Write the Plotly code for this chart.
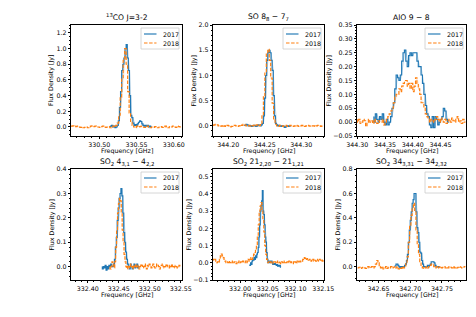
import numpy as np
import plotly.graph_objects as go

# ---------------- DATA ----------------
titles = ["<sup>13</sup>CO J=3-2", "SO 8<sub>8</sub> − 7<sub>7</sub>", "AlO 9 − 8",
          "SO<sub>2</sub> 4<sub>3,1</sub> − 4<sub>2,2</sub>",
          "SO<sub>2</sub> 21<sub>2,20</sub> − 21<sub>1,21</sub>",
          "SO<sub>2</sub> 34<sub>3,31</sub> − 34<sub>2,32</sub>"]
series_names = ["2017", "2018"]

# channel start frequency [GHz] and channel width [GHz]
co_2017_f0, co_2017_df = 330.515, 0.0015
co_2017 = [0.0, 0.01, 0.02, 0.0, 0.01, -0.01, 0.0, 0.02, 0.08, 0.25, 0.45, 0.72, 0.8, 0.88,
           1.0, 1.05, 0.88, 0.72, 0.4, 0.15, 0.12, 0.05, 0.02, 0.03, 0.02, 0.04, 0.06, 0.08,
           0.07, 0.04, 0.02, 0.01, 0.02, 0.01, 0.02, 0.0, 0.01, 0.0]
co_2018_f0, co_2018_df = 330.462, 0.002
co_2018 = [0.01, 0.01, 0.015, 0.01, 0.005, 0.01, 0.0, -0.005, 0.0, -0.01, -0.005, 0.0, -0.01,
           0.0, 0.01, 0.015, 0.005, 0.01, 0.0, 0.0, -0.005, 0.005, 0.01, 0.0, -0.005, 0.0,
           0.005, -0.01, 0.0, 0.01, 0.0, 0.02, 0.05, 0.15, 0.38, 0.62, 0.85, 1.0, 0.8, 0.45,
           0.18, 0.06, 0.02, 0.0, -0.01, 0.01, 0.0, 0.005, 0.01, 0.0, -0.005, 0.005, 0.01,
           0.0, -0.01, 0.0, -0.005, 0.005, 0.0, -0.01, 0.0, 0.005, -0.005, 0.0, 0.01, 0.0,
           -0.01, 0.005, 0.0, 0.01, 0.0, -0.005, 0.01, 0.005, 0.0]

so_2017_f0, so_2017_df = 344.2225, 0.0015
so_2017 = [0.0, 0.01, 0.03, 0.02, 0.0, 0.01, 0.0, -0.01, 0.0, 0.01, 0.0, -0.01, 0.0, 0.02,
           0.01, 0.0, 0.02, 0.05, 0.2, 0.55, 1.0, 1.3, 1.45, 1.5, 1.45, 1.3, 1.1, 0.6, 0.2,
           0.05, 0.02, 0.0, 0.01, 0.0, -0.01, 0.0, -0.01, -0.03, -0.02, -0.01, 0.0, -0.01, 0.0]
so_2018_f0, so_2018_df = 344.180, 0.002
so_2018 = [0.0, 0.02, 0.03, 0.02, 0.0, -0.01, 0.0, -0.02, 0.0, -0.01, 0.01, 0.0, -0.02, -0.01,
           0.0, 0.01, 0.0, -0.01, 0.0, 0.02, 0.01, 0.03, 0.02, 0.0, 0.01, 0.0, -0.01, 0.0,
           0.01, 0.0, 0.02, 0.0, 0.01, 0.05, 0.2, 0.6, 1.05, 1.45, 1.52, 1.3, 0.95, 0.45, 0.12,
           0.03, 0.0, -0.01, 0.01, 0.0, -0.01, 0.0, 0.01, -0.01, 0.0, 0.01, 0.0, -0.01, 0.0,
           0.01, 0.0, -0.01, 0.0, 0.01, 0.0, -0.01, 0.0, 0.01, 0.0, -0.01, 0.0, 0.0, -0.01,
           0.0, 0.01, 0.0, -0.01, 0.0]

alo_2017_f0, alo_2017_df = 344.330, 0.0025
alo_2017 = [0.02, 0.0, 0.03, 0.01, 0.0, 0.02, 0.01, 0.03, 0.0, -0.01, 0.01, -0.01, 0.0, 0.02,
            0.05, 0.07, 0.12, 0.17, 0.16, 0.15, 0.17, 0.22, 0.25, 0.26, 0.22, 0.2, 0.24, 0.25,
            0.24, 0.25, 0.25, 0.25, 0.22, 0.2, 0.2, 0.17, 0.14, 0.1, 0.06, 0.03, 0.02, -0.01,
            -0.02, 0.02, -0.02, 0.02, 0.01, -0.01, 0.0, 0.01, 0.02, 0.05, 0.04, 0.01, 0.0]
alo_2018_f0, alo_2018_df = 344.300, 0.0025
alo_2018 = [0.01, 0.0, 0.01, -0.005, 0.0, 0.01, 0.005, -0.015, 0.0, 0.01, 0.0, 0.005, -0.005,
            0.01, 0.0, -0.005, 0.005, 0.0, 0.0, 0.01, -0.01, 0.0, 0.01, 0.02, 0.03, 0.04, 0.05,
            0.07, 0.09, 0.1, 0.1, 0.12, 0.11, 0.13, 0.14, 0.15, 0.15, 0.13, 0.14, 0.12, 0.14,
            0.11, 0.13, 0.16, 0.14, 0.12, 0.1, 0.07, 0.07, 0.05, 0.03, 0.02, 0.01, 0.0, 0.01,
            0.005, 0.0, 0.01, 0.02, 0.01, 0.0, 0.015, 0.005, 0.0, 0.01, -0.005, 0.005, 0.01,
            0.0, 0.015, 0.005, 0.0, 0.01, 0.02, 0.0, 0.005, -0.005, 0.01, 0.0]

so2a_2017_f0, so2a_2017_df = 332.4235, 0.0015
so2a_2017 = [0.0, -0.01, 0.0, -0.005, 0.005, -0.015, 0.0, -0.01, 0.005, 0.0, 0.01, 0.0, 0.0,
             0.01, 0.03, 0.08, 0.12, 0.19, 0.24, 0.28, 0.3, 0.32, 0.29, 0.22, 0.14, 0.1, 0.06,
             0.03, 0.01, 0.0, -0.01, 0.01, 0.0, -0.01, 0.0, 0.01, -0.005, 0.0, 0.01, -0.005, 0.0]
so2a_2018_f0, so2a_2018_df = 332.436, 0.0015
so2a_2018 = [0.0, -0.01, 0.0, 0.02, 0.01, -0.005, 0.02, 0.08, 0.15, 0.22, 0.26, 0.28, 0.27,
             0.22, 0.15, 0.1, 0.05, 0.02, 0.0, -0.01, 0.005, 0.0, -0.005, 0.01, 0.0, -0.01,
             0.005, 0.0, 0.01, -0.005, 0.0, 0.005, -0.01, 0.0, 0.01, 0.005, -0.005, 0.0, 0.01,
             0.0, -0.01, 0.005, 0.0, 0.01, 0.0, -0.005, 0.005, 0.01, 0.0, -0.005, 0.0, 0.01,
             0.005, 0.0, -0.01, 0.0, 0.005, 0.01, 0.0, -0.005, 0.0, 0.01, 0.005, 0.0, -0.005,
             0.005, 0.0, 0.01, 0.0, -0.005, 0.0, 0.005, 0.0, -0.005, 0.0, 0.005, 0.0]

so2b_2017_f0, so2b_2017_df = 332.0177, 0.00125
so2b_2017 = [-0.01, -0.015, 0.0, -0.01, 0.01, 0.02, 0.015, 0.03, 0.02, 0.04, 0.03, 0.05, 0.06,
             0.09, 0.15, 0.22, 0.3, 0.33, 0.36, 0.42, 0.3, 0.28, 0.22, 0.15, 0.12, 0.06, 0.02,
             0.0, 0.01, 0.0, 0.01, 0.0, 0.01, 0.0, -0.01, -0.005, -0.01, -0.005, -0.01, -0.015,
             -0.01, -0.02, -0.015, -0.02, -0.015, -0.025]
so2b_2018_f0, so2b_2018_df = 331.951, 0.00167
so2b_2018 = [0.01, 0.02, 0.015, 0.02, 0.01, 0.0, 0.005, 0.0, 0.02, 0.04, 0.05, 0.04, 0.03, 0.02,
             0.01, 0.0, 0.005, 0.0, 0.01, 0.0, 0.005, 0.0, 0.01, 0.0, 0.005, 0.0, -0.005, 0.005,
             0.0, 0.01, 0.0, 0.005, 0.0, 0.01, 0.005, 0.0, 0.01, 0.0, 0.01, 0.02, 0.01, 0.02,
             0.03, 0.02, 0.04, 0.05, 0.06, 0.08, 0.1, 0.15, 0.22, 0.3, 0.33, 0.35, 0.3, 0.25,
             0.18, 0.1, 0.05, 0.02, 0.0, 0.005, 0.0, 0.005, 0.0, -0.005, 0.005, 0.0, 0.005, 0.0,
             0.01, 0.0, 0.005, 0.0, -0.005, 0.005, 0.0, 0.01, 0.0, 0.005, 0.0, 0.005, 0.0, 0.01,
             0.0, 0.005, 0.0, -0.005, 0.005, 0.0, 0.005, 0.0, 0.01, 0.005, 0.0, 0.01, 0.005,
             0.01, 0.02, 0.03, 0.025, 0.03, 0.02, 0.025, 0.015, 0.02, 0.01, 0.015, 0.01, 0.02,
             0.01, 0.015, 0.01, 0.02, 0.015, 0.01, 0.02, 0.015, 0.02, 0.01, 0.015]

so2c_2017_f0, so2c_2017_df = 342.676, 0.0015
so2c_2017 = [0.0, 0.005, 0.02, 0.02, 0.01, 0.0, -0.01, 0.0, 0.0, -0.005, 0.0, 0.01, 0.02, 0.05,
             0.1, 0.2, 0.3, 0.38, 0.45, 0.52, 0.55, 0.6, 0.6, 0.45, 0.32, 0.28, 0.2, 0.12, 0.11,
             0.05, 0.02, 0.0, 0.0, -0.005, 0.0, 0.01, 0.0, 0.01, 0.02, 0.04, 0.04, 0.04, 0.03,
             0.01, 0.0, 0.0, -0.005, 0.0]
so2c_2018_f0, so2c_2018_df = 342.617, 0.002
so2c_2018 = [-0.01, -0.01, -0.005, -0.015, -0.01, -0.005, -0.01, -0.015, -0.01, 0.0, -0.01,
             -0.005, 0.0, -0.01, 0.0, 0.02, 0.05, 0.03, 0.0, -0.01, 0.0, -0.02, -0.01, 0.0,
             -0.015, -0.005, -0.01, 0.0, -0.01, -0.005, 0.0, -0.01, 0.0, -0.02, -0.01, -0.015,
             0.0, -0.01, 0.0, 0.03, 0.08, 0.2, 0.33, 0.42, 0.48, 0.52, 0.45, 0.3, 0.18, 0.1,
             0.04, 0.0, -0.01, -0.015, -0.01, 0.0, -0.01, 0.0, 0.01, 0.02, 0.02, 0.0, -0.01,
             0.0, -0.01, -0.005, 0.0, -0.01, -0.005, 0.0, -0.01, -0.005, -0.01, 0.0, -0.005,
             -0.01, 0.0, -0.01, -0.005, -0.01, -0.005, 0.0, -0.005, -0.01, -0.005, 0.0]

panels = [
    (co_2017_f0, co_2017_df, co_2017, co_2018_f0, co_2018_df, co_2018),
    (so_2017_f0, so_2017_df, so_2017, so_2018_f0, so_2018_df, so_2018),
    (alo_2017_f0, alo_2017_df, alo_2017, alo_2018_f0, alo_2018_df, alo_2018),
    (so2a_2017_f0, so2a_2017_df, so2a_2017, so2a_2018_f0, so2a_2018_df, so2a_2018),
    (so2b_2017_f0, so2b_2017_df, so2b_2017, so2b_2018_f0, so2b_2018_df, so2b_2018),
    (so2c_2017_f0, so2c_2017_df, so2c_2017, so2c_2018_f0, so2c_2018_df, so2c_2018),
]

x_ranges = [[330.462, 330.611], [344.179, 344.331], [344.2995, 344.496],
            [332.373, 332.552], [331.9512, 332.1515], [342.616, 342.788]]
y_ranges = [[-0.115, 1.30], [-0.2, 2.0005], [-0.05, 0.3502],
            [-0.055, 0.4005], [-0.1, 0.545], [-0.11, 0.801]]
y_dtick = [0.2, 0.5, 0.05, 0.1, 0.1, 0.2]
y_minor = [0.05, 0.1, 0.01, 0.02, 0.02, 0.05]
y_fmt = [".1f", ".1f", ".2f", ".1f", ".1f", ".1f"]

# ---------------- LAYOUT / STYLE ----------------
W, H = 476, 317
cols_px = [(71, 182), (213, 324), (357, 466)]
rows_px = [(25, 136), (169, 280)]
ytitle_off = [19.5, 19, 28, 20, 25, 20]
BLUE, ORANGE = "#1f77b4", "#ff7f0e"
FONT = "DejaVu Sans"
FS, FS_TITLE = 6.3, 7.6
DASH = "3.5px,1.6px"
LW = 1.15

def fx(p):
    return p / W

def fy(p):
    return 1 - p / H

fig = go.Figure()
layout = dict(width=W, height=H, margin=dict(l=0, r=0, t=0, b=0, autoexpand=False),
              paper_bgcolor="white", plot_bgcolor="white", showlegend=False,
              font=dict(family=FONT, size=FS, color="black"))
annotations, shapes = [], []

for i, (f17, d17, v17, f18, d18, v18) in enumerate(panels):
    r, c = divmod(i, 3)
    x0p, x1p = cols_px[c]
    y0p, y1p = rows_px[r]
    xa = "x" if i == 0 else f"x{i+1}"
    ya = "y" if i == 0 else f"y{i+1}"
    x17 = f17 + d17 * np.arange(len(v17))
    x18 = f18 + d18 * np.arange(len(v18))
    # faint linear traces underneath + step traces
    fig.add_trace(go.Scatter(x=x17, y=v17, mode="lines", line=dict(color=BLUE, width=1.0),
                             opacity=0.3, xaxis=xa, yaxis=ya, hoverinfo="skip"))
    fig.add_trace(go.Scatter(x=x18, y=v18, mode="lines", line=dict(color=ORANGE, width=1.0),
                             opacity=0.15, xaxis=xa, yaxis=ya, hoverinfo="skip"))
    fig.add_trace(go.Scatter(x=x17, y=v17, mode="lines", name=series_names[0],
                             line=dict(color=BLUE, width=LW, shape="vh"), xaxis=xa, yaxis=ya))
    fig.add_trace(go.Scatter(x=x18, y=v18, mode="lines", name=series_names[1],
                             line=dict(color=ORANGE, width=LW, shape="vh", dash=DASH),
                             xaxis=xa, yaxis=ya))
    axcommon = dict(showline=True, linecolor="black", linewidth=0.8, mirror=True,
                    ticks="outside", ticklen=2.3, tickwidth=0.8, tickcolor="black",
                    showgrid=False, zeroline=False, fixedrange=True, tickangle=0,
                    automargin=False,
                    tickfont=dict(family=FONT, size=FS, color="black"))
    layout["xaxis" if i == 0 else f"xaxis{i+1}"] = dict(
        axcommon, domain=[fx(x0p), fx(x1p)], anchor=ya, range=x_ranges[i],
        dtick=0.05, tick0=0, tickformat=".2f",
        minor=dict(ticks="outside", ticklen=1.3, tickwidth=0.6, dtick=0.01,
                   tickcolor="black", showgrid=False))
    layout["yaxis" if i == 0 else f"yaxis{i+1}"] = dict(
        axcommon, domain=[fy(y1p), fy(y0p)], anchor=xa, range=y_ranges[i],
        dtick=y_dtick[i], tick0=0, tickformat=y_fmt[i],
        minor=dict(ticks="outside", ticklen=1.3, tickwidth=0.6, dtick=y_minor[i],
                   tickcolor="black", showgrid=False))
    # title
    annotations.append(dict(text=titles[i], x=fx((x0p + x1p) / 2), y=fy(y0p - 7.5),
                            xref="paper", yref="paper", xanchor="center", yanchor="middle",
                            showarrow=False, font=dict(family=FONT, size=FS_TITLE, color="black")))
    # axis titles
    annotations.append(dict(text="Frequency [GHz]", x=fx((x0p + x1p) / 2), y=fy(y1p + 15),
                            xref="paper", yref="paper", xanchor="center", yanchor="middle",
                            showarrow=False, font=dict(family=FONT, size=FS, color="black")))
    annotations.append(dict(text="Flux Density [Jy]", x=fx(x0p - ytitle_off[i]),
                            y=fy((y0p + y1p) / 2), xref="paper", yref="paper",
                            xanchor="center", yanchor="middle", textangle=-90,
                            showarrow=False, font=dict(family=FONT, size=FS, color="black")))
    # legend box
    bx1, by0 = x1p - 3, y0p + 3
    bx0, by1 = bx1 - 38, by0 + 21
    shapes.append(dict(type="rect", xref="paper", yref="paper", x0=fx(bx0), x1=fx(bx1),
                       y0=fy(by1), y1=fy(by0), line=dict(color="#cccccc", width=0.8),
                       fillcolor="rgba(255,255,255,0.8)", layer="above"))
    for k, (col, dash) in enumerate([(BLUE, "solid"), (ORANGE, DASH)]):
        ly = by0 + 6 + k * 9
        shapes.append(dict(type="line", xref="paper", yref="paper", x0=fx(bx0 + 3),
                           x1=fx(bx0 + 15.5), y0=fy(ly), y1=fy(ly), layer="above",
                           line=dict(color=col, width=LW, dash=dash)))
        annotations.append(dict(text=series_names[k], x=fx(bx0 + 19.5), y=fy(ly),
                                xref="paper", yref="paper", xanchor="left", yanchor="middle",
                                showarrow=False, font=dict(family=FONT, size=FS, color="black")))

layout["annotations"] = annotations
layout["shapes"] = shapes
fig.update_layout(**layout)
fig.write_html("out.html", config={"displayModeBar": False},
               post_script="document.body.style.margin='0';document.body.style.padding='0';")
